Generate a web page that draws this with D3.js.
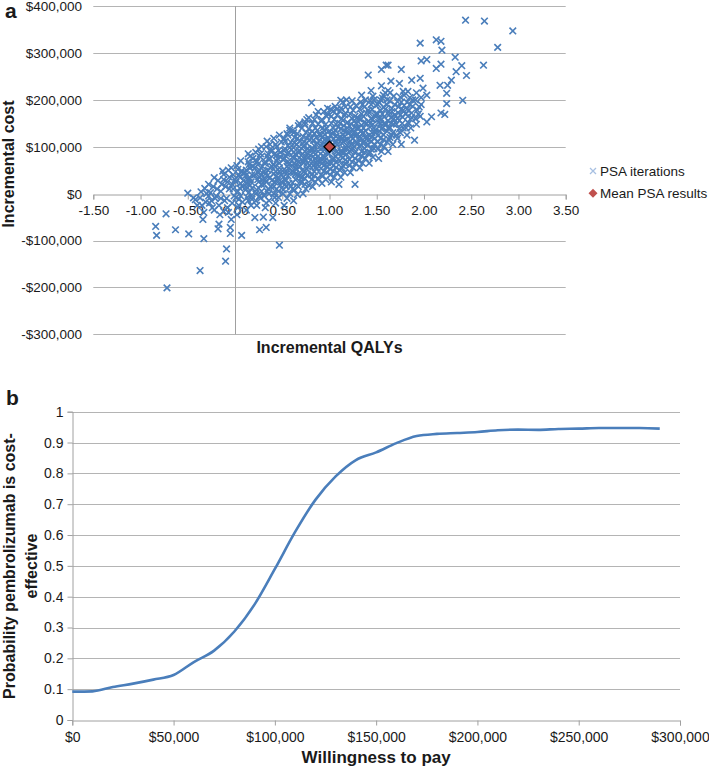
<!DOCTYPE html>
<html><head><meta charset="utf-8">
<script src="https://cdn.jsdelivr.net/npm/d3@7"></script>
<style>
body{margin:0;background:#fff;}
svg{display:block;font-family:"Liberation Sans",Arial,sans-serif;}
</style></head>
<body><svg id="c" width="709" height="768"></svg>
<script>
// ---------- Panel a data ----------
const xTicksA = [-1.5,-1.0,-0.5,0,0.5,1.0,1.5,2.0,2.5,3.0,3.5];
const yTicksA = [-300000,-200000,-100000,0,100000,200000,300000,400000];
// PSA iterations: [incremental QALYs, incremental cost in $ thousands]
const psaPoints = [
[-0.72,-201],[-0.37,-164],[-0.10,-144],[-0.09,-118],[-0.84,-70],[-0.83,-89],[-0.73,-43],[-0.63,-77],[-0.49,-86],[-0.33,-96],[-0.44,-9],[-0.42,-13],[-0.50,1],[-0.32,11],[-0.40,-25],
[-0.37,-9],[-0.35,-25],[-0.33,-40],[-0.34,-55],[-0.31,-18],[-0.36,4],
[-0.27,-20],[-0.24,-30],[-0.22,-35],[-0.26,2],[-0.22,34],[-0.21,-10],[-0.28,-5],[-0.23,15],
[-0.18,-75],[-0.17,-65],[-0.16,-45],[-0.13,48],[-0.12,41],[-0.14,20],[-0.15,5],[-0.11,-15],[-0.17,-25],[-0.12,30],[-0.19,10],
[-0.05,-72],[-0.05,-85],[-0.07,-40],[-0.03,-20],[-0.08,25],[-0.04,55],[-0.02,40],[-0.06,10],[-0.01,-5],[-0.09,-10],[-0.03,20],[-0.06,35],
[0.07,-89],[0.02,-45],[0.04,-25],[0.06,-5],[0.03,5],[0.08,15],[0.01,25],[0.05,35],[0.09,45],[0.02,60],[0.06,70],[0.04,-12],[0.09,28],[0.03,52],
[0.12,-35],[0.14,-15],[0.17,-5],[0.11,8],[0.16,18],[0.13,30],[0.18,40],[0.12,50],[0.15,62],[0.19,75],[0.14,85],[0.17,-25],[0.11,38],[0.18,12],[0.13,22],[0.16,55],
[0.21,-51],[0.26,-77],[0.23,-25],[0.27,-10],[0.22,0],[0.25,12],[0.28,20],[0.24,30],[0.21,40],[0.26,50],[0.29,58],[0.23,68],[0.27,78],[0.22,88],[0.25,95],[0.28,5],[0.24,45],[0.26,35],
[0.30,-50],[0.33,-72],[0.32,-30],[0.36,-15],[0.31,-5],[0.34,5],[0.38,15],[0.33,25],[0.37,35],[0.32,42],[0.35,50],[0.39,58],[0.31,65],[0.36,72],[0.34,80],[0.38,90],[0.33,100],[0.37,105],[0.35,10],[0.32,30],
[0.40,-51],[0.47,-110],[0.43,-20],[0.46,-8],[0.41,0],[0.44,10],[0.48,18],[0.42,25],[0.45,33],[0.49,40],[0.43,47],[0.47,55],[0.41,62],[0.44,70],[0.48,78],[0.42,85],[0.46,92],[0.44,100],[0.49,110],[0.41,118],[0.45,28],[0.47,65],
[0.52,-25],[0.55,-10],[0.58,0],[0.51,8],[0.54,15],[0.57,22],[0.53,30],[0.56,38],[0.59,45],[0.52,52],[0.55,58],[0.58,65],[0.51,72],[0.54,80],[0.57,88],[0.53,95],[0.56,102],[0.59,110],[0.52,118],[0.55,128],[0.58,135],[0.54,42],[0.56,68],[0.53,20],
[0.62,-15],[0.66,-2],[0.63,8],[0.67,15],[0.61,23],[0.64,30],[0.68,38],[0.62,45],[0.65,52],[0.69,58],[0.63,65],[0.66,72],[0.61,78],[0.64,85],[0.68,92],[0.62,98],[0.65,105],[0.69,112],[0.63,120],[0.66,128],[0.61,135],[0.67,145],[0.64,60],[0.66,40],[0.62,88],
[0.72,0],[0.75,10],[0.78,18],[0.71,25],[0.74,32],[0.77,40],[0.73,47],[0.76,53],[0.79,60],[0.72,66],[0.75,72],[0.78,78],[0.71,84],[0.74,90],[0.77,96],[0.73,102],[0.76,108],[0.79,115],[0.72,122],[0.75,130],[0.78,138],[0.74,148],[0.76,158],[0.73,75],[0.77,85],[0.71,50],
[0.81,194],[0.74,153],[0.82,15],[0.85,25],[0.88,32],[0.81,40],[0.84,47],[0.87,54],[0.83,60],[0.86,66],[0.89,72],[0.82,78],[0.85,84],[0.88,90],[0.81,96],[0.84,102],[0.87,108],[0.83,114],[0.86,120],[0.89,126],[0.82,133],[0.85,140],[0.88,148],[0.84,158],[0.86,168],[0.83,88],[0.87,70],
[0.92,22],[0.96,30],[0.93,38],[0.97,46],[0.91,54],[0.94,60],[0.98,66],[0.92,72],[0.95,78],[0.99,84],[0.93,90],[0.96,96],[0.91,102],[0.94,108],[0.98,114],[0.92,120],[0.95,126],[0.99,132],[0.93,140],[0.96,148],[0.91,155],[0.97,165],[0.94,175],[0.98,182],[0.95,100],[0.93,80],
[1.01,180],[1.12,199],[1.02,25],[1.05,35],[1.08,45],[1.01,52],[1.04,60],[1.07,67],[1.03,73],[1.06,80],[1.09,86],[1.02,92],[1.05,98],[1.08,104],[1.01,110],[1.04,116],[1.07,122],[1.03,128],[1.06,135],[1.09,142],[1.02,150],[1.05,158],[1.08,167],[1.04,176],[1.06,186],[1.10,20],[1.03,95],[1.07,112],
[1.12,35],[1.16,45],[1.13,55],[1.17,63],[1.11,70],[1.14,77],[1.18,84],[1.12,90],[1.15,96],[1.19,102],[1.13,108],[1.16,114],[1.11,120],[1.14,126],[1.18,132],[1.12,138],[1.15,145],[1.19,152],[1.13,160],[1.16,168],[1.11,176],[1.17,185],[1.14,195],[1.18,200],[1.15,110],[1.13,88],
[1.27,20],[1.22,45],[1.25,55],[1.28,65],[1.21,73],[1.24,80],[1.27,87],[1.23,94],[1.26,100],[1.29,106],[1.22,112],[1.25,118],[1.28,124],[1.21,130],[1.24,136],[1.27,142],[1.23,148],[1.26,155],[1.29,162],[1.22,170],[1.25,178],[1.28,188],[1.24,198],[1.26,125],[1.23,105],
[1.32,55],[1.35,65],[1.38,75],[1.31,83],[1.34,90],[1.37,97],[1.33,104],[1.36,110],[1.39,116],[1.32,122],[1.35,128],[1.38,134],[1.31,140],[1.34,146],[1.37,152],[1.33,158],[1.36,165],[1.39,172],[1.32,180],[1.35,190],[1.38,200],[1.34,210],[1.36,130],[1.33,118],
[1.42,65],[1.46,78],[1.43,88],[1.47,96],[1.41,104],[1.44,112],[1.48,118],[1.42,124],[1.45,130],[1.49,136],[1.43,142],[1.46,148],[1.41,154],[1.44,160],[1.48,166],[1.42,172],[1.45,180],[1.49,188],[1.43,198],[1.46,208],[1.44,220],[1.47,140],[1.41,253],
[1.52,75],[1.55,90],[1.58,100],[1.51,110],[1.54,118],[1.57,126],[1.53,133],[1.56,140],[1.59,146],[1.52,152],[1.55,158],[1.58,164],[1.51,170],[1.54,177],[1.57,185],[1.53,194],[1.56,204],[1.59,215],[1.55,230],[1.55,265],[1.54,150],[1.60,274],
[1.62,90],[1.67,105],[1.63,115],[1.66,125],[1.61,133],[1.64,141],[1.68,148],[1.62,155],[1.65,162],[1.69,168],[1.63,175],[1.66,182],[1.61,190],[1.64,198],[1.68,208],[1.62,220],[1.65,240],[1.62,274],
[1.76,105],[1.72,118],[1.75,130],[1.78,140],[1.71,148],[1.74,156],[1.77,164],[1.73,172],[1.76,180],[1.79,188],[1.72,196],[1.75,206],[1.78,218],[1.76,265],[1.74,235],
[1.82,125],[1.86,140],[1.83,152],[1.87,162],[1.81,170],[1.84,178],[1.88,186],[1.82,195],[1.85,205],[1.87,242],[1.83,218],[1.90,114],
[1.92,148],[1.96,165],[1.93,178],[1.97,190],[1.91,200],[1.96,246],[1.97,283],[1.96,321],[2.03,286],[2.03,210],[2.03,153],[1.99,225],
[2.08,164],[2.13,267],[2.13,328],[2.18,325],[2.19,306],[2.18,276],[2.18,172],[2.22,169],[2.17,231],[2.24,192],[2.24,214],[2.25,231],[2.29,242],[2.33,291],[2.34,260],[2.40,273],[2.41,199],[2.45,252],[2.44,370],[2.64,368],[2.63,274],[2.78,312],[2.94,347],
// denser core
[-0.30,0],[-0.28,20],[-0.20,-5],[-0.18,28],[-0.10,15],[-0.08,-30],[-0.04,-55],[-0.15,-10],[-0.25,-15],[-0.12,-38],[-0.02,10],[-0.07,50],
[0.00,30],[0.03,-30],[0.05,12],[0.07,48],[0.01,-8],[0.08,-18],[0.04,40],[0.06,22],
[0.13,-8],[0.16,32],[0.11,45],[0.19,58],[0.14,68],[0.17,25],[0.12,15],[0.18,-12],[0.15,3],[0.16,80],
[0.22,-15],[0.25,25],[0.28,40],[0.21,55],[0.24,62],[0.27,85],[0.23,8],[0.29,30],[0.26,-5],[0.22,72],[0.28,100],
[0.31,20],[0.34,38],[0.37,55],[0.32,68],[0.35,85],[0.38,95],[0.33,-20],[0.36,0],[0.39,28],[0.31,48],[0.37,75],[0.34,112],
[0.41,15],[0.44,38],[0.47,48],[0.42,58],[0.45,75],[0.48,88],[0.43,105],[0.46,5],[0.49,25],[0.41,42],[0.44,82],[0.47,125],[0.42,-8],
[0.51,35],[0.54,48],[0.57,62],[0.52,75],[0.55,85],[0.58,98],[0.53,112],[0.56,125],[0.59,15],[0.51,0],[0.54,28],[0.57,55],[0.52,92],[0.58,140],
[0.61,48],[0.64,55],[0.67,68],[0.62,75],[0.65,82],[0.68,100],[0.63,108],[0.66,118],[0.69,25],[0.61,10],[0.64,42],[0.67,88],[0.62,130],[0.68,150],
[0.71,35],[0.74,44],[0.77,57],[0.72,70],[0.75,80],[0.78,92],[0.73,110],[0.76,118],[0.79,128],[0.71,140],[0.74,20],[0.77,65],[0.72,100],[0.78,162],
[0.81,30],[0.84,38],[0.87,62],[0.82,68],[0.85,75],[0.88,80],[0.83,95],[0.86,105],[0.89,112],[0.81,118],[0.84,128],[0.87,135],[0.82,150],[0.88,175],[0.85,55],
[0.91,40],[0.94,48],[0.97,58],[0.92,64],[0.95,70],[0.98,88],[0.93,98],[0.96,105],[0.99,118],[0.91,125],[0.94,135],[0.97,140],[0.92,158],[0.98,170],[0.95,115],
[1.01,40],[1.04,48],[1.07,56],[1.02,65],[1.05,75],[1.08,90],[1.03,102],[1.06,108],[1.09,118],[1.01,125],[1.04,140],[1.07,148],[1.02,165],[1.08,180],[1.05,130],
[1.11,50],[1.14,60],[1.17,72],[1.12,80],[1.15,88],[1.18,95],[1.13,118],[1.16,122],[1.19,140],[1.11,150],[1.14,156],[1.17,172],[1.12,182],[1.18,115],[1.15,135],
[1.21,60],[1.24,68],[1.27,75],[1.22,90],[1.25,96],[1.28,110],[1.23,122],[1.26,130],[1.29,140],[1.21,145],[1.24,160],[1.27,165],[1.22,185],[1.28,150],
[1.31,70],[1.34,80],[1.37,88],[1.32,100],[1.35,108],[1.38,120],[1.33,132],[1.36,140],[1.39,150],[1.31,160],[1.34,170],[1.37,185],[1.33,195],
[1.41,85],[1.44,95],[1.47,105],[1.42,115],[1.45,122],[1.48,130],[1.43,150],[1.46,158],[1.49,170],[1.41,178],[1.44,190],[1.47,200],
[1.51,95],[1.54,105],[1.57,115],[1.52,125],[1.55,138],[1.58,150],[1.53,160],[1.56,170],[1.59,180],[1.51,190],[1.54,200],[1.57,210],
[1.61,110],[1.64,120],[1.67,130],[1.62,140],[1.65,150],[1.68,160],[1.63,168],[1.66,175],[1.69,190],[1.61,200],[1.64,215],
[1.71,125],[1.74,138],[1.77,150],[1.72,160],[1.75,168],[1.78,178],[1.73,185],[1.76,195],[1.79,210],
[1.81,140],[1.84,150],[1.87,172],[1.82,180],[1.85,190],[1.88,200],[1.83,165],
[1.91,160],[1.94,170],[1.97,205],[1.92,215],[1.95,185]
];
const meanPSA = [1.0, 100];

// ---------- Panel b data ----------
const wtp = [0,10000,20000,30000,40000,50000,60000,70000,80000,90000,100000,110000,120000,130000,140000,150000,160000,170000,180000,190000,200000,210000,220000,230000,240000,250000,260000,270000,280000,290000];
const probCE = [0.092,0.093,0.107,0.118,0.131,0.146,0.188,0.225,0.287,0.375,0.49,0.61,0.714,0.79,0.843,0.868,0.898,0.921,0.928,0.931,0.934,0.94,0.942,0.941,0.944,0.945,0.947,0.947,0.947,0.945];
const xTicksB = [0,50000,100000,150000,200000,250000,300000];
const yTicksB = [0,0.1,0.2,0.3,0.4,0.5,0.6,0.7,0.8,0.9,1];

const svg = d3.select("#c");
const gridCol = "#b4b4b4", axisCol = "#a0a0a0", txtCol = "#1a1a1a";
const blue = "#4a7ebb";

// ================= Panel a =================
const xA = d3.scaleLinear().domain([-1.5,3.5]).range([93.3,565.7]);
const yA = d3.scaleLinear().domain([-300000,400000]).range([334.3,6.1]);

const gA = svg.append("g");
gA.selectAll("line.grid").data(yTicksA.filter(d=>d!==0)).join("line")
  .attr("x1",xA(-1.5)).attr("x2",xA(3.5))
  .attr("y1",d=>Math.round(yA(d))+0.5).attr("y2",d=>Math.round(yA(d))+0.5)
  .attr("stroke",gridCol).attr("stroke-width",1);
gA.append("line").attr("x1",Math.round(xA(0))+0.5).attr("x2",Math.round(xA(0))+0.5)
  .attr("y1",yA(400000)).attr("y2",yA(-300000)).attr("stroke",axisCol);
const axA = gA.append("g").attr("transform",`translate(0,${Math.round(yA(0))+0.5})`)
  .call(d3.axisBottom(xA).tickValues(xTicksA).tickSize(5).tickPadding(6).tickFormat(d=>d.toFixed(2)));
axA.select(".domain").attr("stroke",axisCol);
axA.selectAll(".tick line").attr("stroke",axisCol);
axA.selectAll("text").attr("font-size","13.5px").attr("fill",txtCol).attr("font-family","Liberation Sans, Arial, sans-serif");
const fmtMoney = d => (d<0?"-":"") + "$" + d3.format(",")(Math.abs(d));
gA.selectAll("text.ylab").data(yTicksA).join("text")
  .attr("x",82).attr("y",d=>yA(d)).attr("dy","0.36em").attr("text-anchor","end")
  .attr("font-size","13.5px").attr("fill",txtCol).text(fmtMoney);

const s = 3.3;
gA.append("g").selectAll("path").data(psaPoints).join("path")
  .attr("d",d=>{const cx=xA(d[0]), cy=yA(d[1]*1000);
    return `M${cx-s},${cy-s}L${cx+s},${cy+s}M${cx-s},${cy+s}L${cx+s},${cy-s}`;})
  .attr("stroke",blue).attr("stroke-width",1.6).attr("fill","none");
const md = 5.5;
gA.append("path").datum(meanPSA)
  .attr("d",d=>{const cx=xA(d[0]), cy=yA(d[1]*1000);
    return `M${cx},${cy-md}L${cx+md},${cy}L${cx},${cy+md}L${cx-md},${cy}Z`;})
  .attr("fill","#c0504d").attr("stroke","#000").attr("stroke-width",1.3);

gA.append("text").attr("x",(xA(-1.5)+xA(3.5))/2).attr("y",353).attr("text-anchor","middle")
  .attr("font-size","16px").attr("font-weight","bold").attr("fill",txtCol).text("Incremental QALYs");
gA.append("text").attr("transform","translate(14,164) rotate(-90)").attr("text-anchor","middle")
  .attr("font-size","16px").attr("font-weight","bold").attr("fill",txtCol).text("Incremental cost");
gA.append("text").attr("x",5).attr("y",18).attr("font-size","21px").attr("font-weight","bold").attr("fill",txtCol).text("a");

const lg = gA.append("g");
lg.append("path").attr("d",`M${593-3},${171-3}L${593+3},${171+3}M${593-3},${171+3}L${593+3},${171-3}`)
  .attr("stroke","#a7c0e2").attr("stroke-width",1.3);
lg.append("text").attr("x",600).attr("y",175.5).attr("font-size","13.5px").attr("fill",txtCol).text("PSA iterations");
lg.append("path").attr("d",`M593,${193.3-4.5}L${597.5},193.3L593,${193.3+4.5}L${588.5},193.3Z`).attr("fill","#c0504d");
lg.append("text").attr("x",600).attr("y",198).attr("font-size","13.5px").attr("fill",txtCol).text("Mean PSA results");

// ================= Panel b =================
const xB = d3.scaleLinear().domain([0,300000]).range([72.3,680]);
const yB = d3.scaleLinear().domain([0,1]).range([720,411.7]);
const gB = svg.append("g");
gB.selectAll("line.grid").data(yTicksB.filter(d=>d>0)).join("line")
  .attr("x1",xB(0)).attr("x2",xB(300000))
  .attr("y1",d=>Math.round(yB(d))+0.5).attr("y2",d=>Math.round(yB(d))+0.5)
  .attr("stroke",gridCol);
const axBx = gB.append("g").attr("transform",`translate(0,${Math.round(yB(0))+0.5})`)
  .call(d3.axisBottom(xB).tickValues(xTicksB).tickSize(5).tickPadding(7).tickFormat(d=>"$"+d3.format(",")(d)));
axBx.select(".domain").attr("stroke",axisCol);
axBx.selectAll(".tick line").attr("stroke",axisCol);
axBx.selectAll("text").attr("font-size","14px").attr("fill",txtCol).attr("font-family","Liberation Sans, Arial, sans-serif");
const axBy = gB.append("g").attr("transform",`translate(${Math.round(xB(0))+0.5},0)`)
  .call(d3.axisLeft(yB).tickValues(yTicksB).tickSize(5).tickPadding(4).tickFormat(d=>d===0||d===1?String(d):d.toFixed(1)));
axBy.select(".domain").attr("stroke",axisCol);
axBy.selectAll(".tick line").attr("stroke",axisCol);
axBy.selectAll("text").attr("font-size","14px").attr("fill",txtCol).attr("font-family","Liberation Sans, Arial, sans-serif");

const line = d3.line().x((d,i)=>xB(wtp[i])).y(d=>yB(d)).curve(d3.curveMonotoneX);
gB.append("path").datum(probCE).attr("d",line).attr("fill","none").attr("stroke",blue).attr("stroke-width",2.6);

gB.append("text").attr("x",(xB(0)+xB(300000))/2).attr("y",763).attr("text-anchor","middle")
  .attr("font-size","17px").attr("font-weight","bold").attr("fill",txtCol).text("Willingness to pay");
const yt = gB.append("text").attr("transform","translate(0,566) rotate(-90)").attr("text-anchor","middle")
  .attr("font-size","16px").attr("font-weight","bold").attr("fill",txtCol);
yt.append("tspan").attr("x",0).attr("y",15).text("Probability pembrolizumab is cost-");
yt.append("tspan").attr("x",0).attr("y",36.5).text("effective");
gB.append("text").attr("x",6).attr("y",405).attr("font-size","21px").attr("font-weight","bold").attr("fill",txtCol).text("b");
</script></body></html>
